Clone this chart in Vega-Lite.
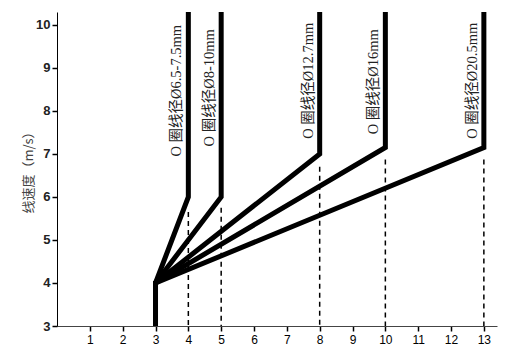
{
  "$schema": "https://vega.github.io/schema/vega-lite/v6.json",
  "autosize": {"type": "none"},
  "width": 440,
  "height": 314,
  "padding": {"left": 57, "top": 12, "right": 28, "bottom": 30},
  "background": "white",
  "config": {"view": {"stroke": null}},
  "datasets": {
    "lines": [
      {"series": "A", "step": 1, "x": 3, "y": 3},
      {"series": "A", "step": 2, "x": 3, "y": 4},
      {"series": "A", "step": 3, "x": 4, "y": 6},
      {"series": "A", "step": 4, "x": 4, "y": 10.3},
      {"series": "B", "step": 1, "x": 3, "y": 3},
      {"series": "B", "step": 2, "x": 3, "y": 4},
      {"series": "B", "step": 3, "x": 5, "y": 6},
      {"series": "B", "step": 4, "x": 5, "y": 10.3},
      {"series": "C", "step": 1, "x": 3, "y": 3},
      {"series": "C", "step": 2, "x": 3, "y": 4},
      {"series": "C", "step": 3, "x": 8, "y": 7},
      {"series": "C", "step": 4, "x": 8, "y": 10.3},
      {"series": "D", "step": 1, "x": 3, "y": 3},
      {"series": "D", "step": 2, "x": 3, "y": 4},
      {"series": "D", "step": 3, "x": 10, "y": 7.15},
      {"series": "D", "step": 4, "x": 10, "y": 10.3},
      {"series": "E", "step": 1, "x": 3, "y": 3},
      {"series": "E", "step": 2, "x": 3, "y": 4},
      {"series": "E", "step": 3, "x": 13, "y": 7.15},
      {"series": "E", "step": 4, "x": 13, "y": 10.3}
    ],
    "guides": [
      {"x": 4, "y": 5.65, "bottom": 3},
      {"x": 5, "y": 5.75, "bottom": 3},
      {"x": 8, "y": 6.7, "bottom": 3},
      {"x": 10, "y": 6.87, "bottom": 3},
      {"x": 13, "y": 6.87, "bottom": 3}
    ],
    "labels": [
      {"x": 4, "y": 10, "label": "O 圈线径Ø6.5-7.5mm"},
      {"x": 5, "y": 9.9, "label": "O 圈线径Ø8-10mm"},
      {"x": 8, "y": 10.05, "label": "O 圈线径Ø12.7mm"},
      {"x": 10, "y": 9.9, "label": "O 圈线径Ø16mm"},
      {"x": 13, "y": 10.05, "label": "O 圈线径Ø20.5mm"}
    ]
  },
  "encoding": {
    "x": {"field": "x", "type": "quantitative", "scale": {"domain": [0, 13.4], "nice": false},
      "axis": {"values": [1,2,3,4,5,6,7,8,9,10,11,12,13], "title": null, "domainColor": "#444", "domainWidth": 1,
        "tickColor": "black", "tickWidth": 1.5, "tickSize": 5, "labelFont": "Liberation Sans", "labelFontSize": 12,
        "labelColor": "black", "labelPadding": 3, "grid": false, "labelFlush": false, "labelOverlap": false}},
    "y": {"field": "y", "type": "quantitative", "scale": {"domain": [3, 10.3], "nice": false},
      "axis": {"values": [3,4,5,6,7,8,9,10], "title": "线速度（m/s）", "titleFont": "Noto Sans CJK SC",
        "titleFontWeight": "normal", "titleFontSize": 13, "titleColor": "#444",
        "titleX": -29, "titleY": 157, "titleAlign": "center", "titleBaseline": "middle", "titleAngle": 270,
        "domainColor": "black", "domainWidth": 1, "tickColor": "black", "tickWidth": 1.5, "tickSize": 5,
        "labelFont": "Liberation Sans", "labelFontSize": 13, "labelFontWeight": "bold", "labelColor": "#222",
        "labelPadding": 2, "grid": false, "labelFlush": false, "labelOverlap": false}}
  },
  "layer": [
    {
      "data": {"name": "lines"},
      "mark": {"type": "line", "color": "black", "strokeWidth": 5, "strokeJoin": "miter", "strokeCap": "butt"},
      "encoding": {
        "detail": {"field": "series"},
        "order": {"field": "step", "type": "quantitative"}
      }
    },
    {
      "data": {"name": "guides"},
      "mark": {"type": "rule", "strokeDash": [5, 4], "strokeWidth": 1.5, "color": "black"},
      "encoding": {
        "y2": {"field": "bottom"}
      }
    },
    {
      "data": {"name": "labels"},
      "mark": {"type": "text", "angle": 270, "align": "right", "baseline": "middle", "dy": -11,
        "font": "Liberation Serif, Noto Sans CJK SC", "fontSize": 14.5, "color": "#222"},
      "encoding": {
        "text": {"field": "label"}
      }
    }
  ]
}
